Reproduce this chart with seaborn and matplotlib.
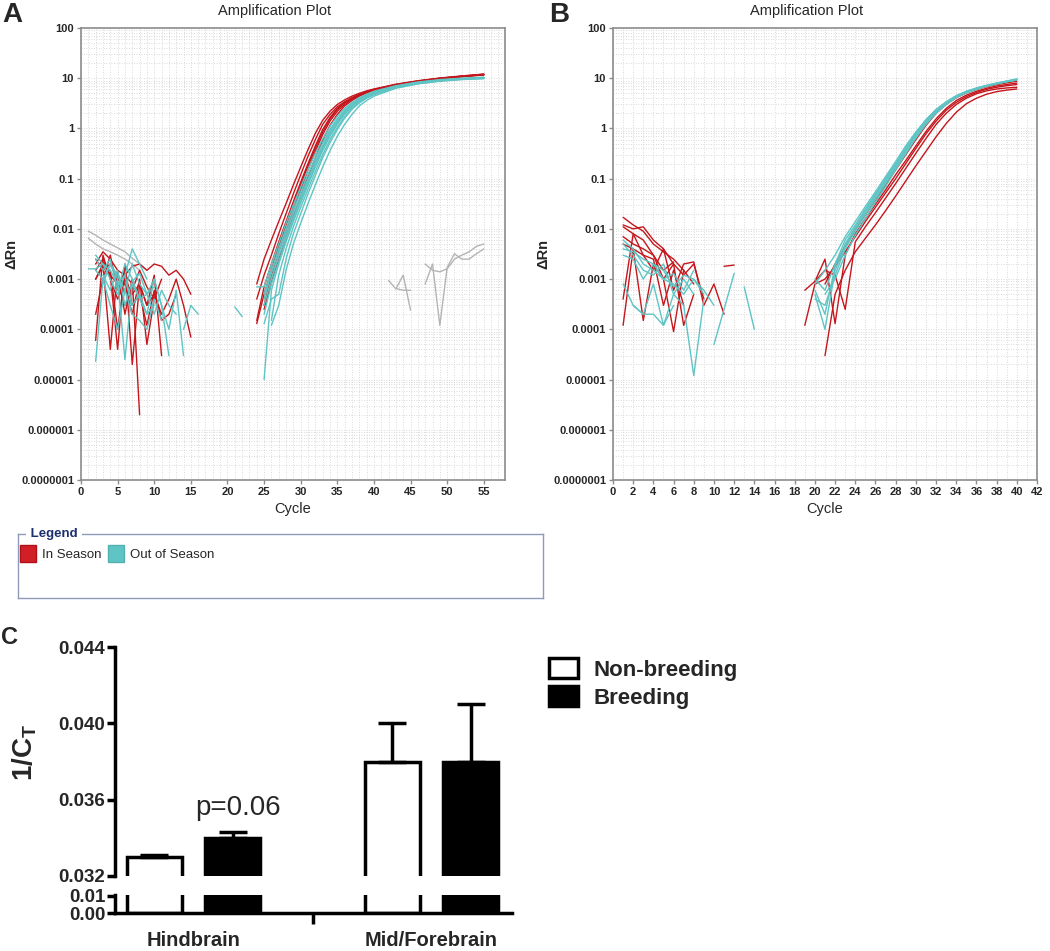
import matplotlib
matplotlib.use("Agg")
import matplotlib.pyplot as plt
import seaborn as sns
import pandas as pd
from matplotlib.patches import Patch
from matplotlib.ticker import FixedLocator, FixedFormatter, MultipleLocator, NullFormatter

# ---------------- panel A: amplification curves (delta Rn per cycle) ----------------
a_amp_cycles = [24, 25, 26, 27, 28, 29, 30, 31, 32, 33, 34, 35, 36, 37, 38, 39, 40, 43, 46, 49, 52, 55]
a_in_amp = [
    [4e-4, 1.2e-3, 3e-3, 8e-3, 0.02, 0.05, 0.12, 0.28, 0.6, 1.2, 1.9, 2.7, 3.4, 4.1, 4.8, 5.4, 6.0, 7.5, 8.8, 10.0, 11.0, 12.0],
    [1.5e-4, 7e-4, 2e-3, 5.5e-3, 0.014, 0.035, 0.085, 0.2, 0.45, 0.95, 1.65, 2.5, 3.3, 4.0, 4.7, 5.3, 5.9, 7.4, 8.7, 9.9, 10.9, 11.8],
    [None, 3e-4, 1.2e-3, 3.5e-3, 0.009, 0.024, 0.06, 0.15, 0.35, 0.75, 1.4, 2.2, 3.0, 3.8, 4.5, 5.2, 5.8, 7.3, 8.6, 9.8, 10.8, 11.7],
    [1.3e-4, 5e-4, 1.5e-3, 4.5e-3, 0.012, 0.03, 0.075, 0.18, 0.4, 0.85, 1.55, 2.4, 3.2, 3.9, 4.6, 5.3, 5.9, 7.4, 8.7, 9.9, 10.9, 11.9],
    [None, 2.5e-4, 9e-4, 2.5e-3, 0.007, 0.018, 0.045, 0.11, 0.26, 0.58, 1.15, 1.9, 2.8, 3.6, 4.4, 5.1, 5.7, 7.2, 8.5, 9.7, 10.7, 11.6],
    [8e-4, 2.5e-3, 6e-3, 0.014, 0.032, 0.075, 0.17, 0.38, 0.8, 1.45, 2.2, 3.0, 3.7, 4.4, 5.0, 5.6, 6.1, 7.6, 8.9, 10.1, 11.1, 12.1],
]
a_out_amp = [
    [None, 5e-4, 1.5e-3, 4e-3, 0.01, 0.024, 0.055, 0.12, 0.26, 0.52, 0.95, 1.55, 2.3, 3.1, 3.9, 4.6, 5.3, 6.9, 8.2, 9.2, 9.8, 10.3],
    [None, 3e-4, 1e-3, 2.8e-3, 0.007, 0.017, 0.04, 0.09, 0.2, 0.42, 0.8, 1.35, 2.1, 2.9, 3.7, 4.4, 5.1, 6.8, 8.1, 9.1, 9.7, 10.2],
    [None, 1e-5, 6e-4, 2e-3, 0.0055, 0.014, 0.033, 0.075, 0.17, 0.36, 0.7, 1.2, 1.9, 2.7, 3.5, 4.3, 5.0, 6.7, 8.0, 9.0, 9.7, 10.1],
    [None, None, 1.5e-4, 1.2e-3, 0.004, 0.011, 0.027, 0.062, 0.14, 0.3, 0.6, 1.05, 1.7, 2.5, 3.3, 4.1, 4.8, 6.6, 7.9, 8.9, 9.6, 10.0],
    [None, 1.3e-4, 4e-4, 5e-4, 0.0025, 0.008, 0.02, 0.05, 0.115, 0.26, 0.52, 0.95, 1.6, 2.4, 3.2, 4.0, 4.7, 6.5, 7.8, 8.8, 9.5, 9.9],
    [7e-4, 7e-4, 2e-3, 5e-3, 0.013, 0.03, 0.068, 0.15, 0.32, 0.62, 1.1, 1.75, 2.5, 3.3, 4.1, 4.8, 5.5, 7.1, 8.4, 9.4, 10.0, 10.5],
    [None, 2e-4, 8e-4, 2.2e-3, 0.006, 0.015, 0.036, 0.082, 0.18, 0.39, 0.75, 1.3, 2.0, 2.8, 3.6, 4.4, 5.1, 6.8, 8.0, 9.1, 9.7, 10.2],
    [None, None, 1.2e-4, 3e-4, 1.5e-3, 0.005, 0.013, 0.032, 0.075, 0.17, 0.36, 0.7, 1.2, 1.9, 2.8, 3.6, 4.4, 6.3, 7.7, 8.7, 9.4, 9.8],
    [None, 4e-4, 1.3e-3, 3.5e-3, 0.0085, 0.02, 0.046, 0.1, 0.22, 0.46, 0.88, 1.45, 2.2, 3.0, 3.8, 4.5, 5.2, 6.9, 8.1, 9.1, 9.8, 10.3],
]

# baseline fragments: first cycle of each fragment, then its values
a_in_base_start = [2, 2, 2, 2, 2, 2, 2, 3]
a_in_base = [
    [2e-3, 3.5e-3, 2.5e-3, 1.5e-3, 1.2e-3, 1.8e-3, 2e-3, 1.5e-3, 2e-3, 1.8e-3, 1.2e-3, 1.5e-3, 1e-3, 5e-4],
    [6e-5, 3e-3, 1e-3, 4e-4, 1e-3, 5e-4, 8e-4, 3e-4, 5e-4, 2e-4, 4e-4, 1e-3, 3e-4, 7e-5],
    [1e-3, 2e-3, 4e-5, 1.5e-3, 2e-4, 1e-3, 2e-6],
    [1.5e-3, 2.5e-3, 1.2e-3, 4e-5, 2e-3, 2e-5, 8e-4, 3e-4, 1.2e-3, 3e-5],
    [2.5e-3, 1.5e-3, 2e-3, 1e-3, 8e-4, 2e-4, 1e-3, 5e-5, 4e-4],
    [2e-4, 1e-3, 3e-3, 6e-4, 1.5e-3, 3e-4, 5e-4, 1.2e-4, 6e-4, 1.5e-4, 2e-4, 5e-4],
    [1e-3, 1.8e-3, 1.5e-3, 1e-4, 1.2e-3, 8e-4],
    [2.2e-3, 1.2e-3, 8e-4, 3e-4, 6e-4, 1.5e-3, 7e-4, 4e-4, 1e-3],
]
a_out_base_start = [1, 2, 2, 2, 3, 2, 14, 21, 3]
a_out_base = [
    [1.6e-3, 1.6e-3, 2e-3, 1.5e-3, 8e-4, 1.2e-3, 4e-3, 2e-3, 1e-3],
    [2.3e-5, 1e-3, 2e-3, 1e-3, 2.5e-5, 8e-4, 4e-4, 2e-4, 1e-3, 3e-4, 3e-5],
    [3e-3, 2e-3, 1e-3, 5e-4, 1.2e-3, 3e-4, 5e-4, 2e-4, 3e-4],
    [2.5e-3, 1.5e-3, 2.5e-3, 6e-4, 2e-3, 1e-3, 4e-4, 5e-4, 2e-4, 6e-4, 3e-4, 2e-4],
    [8e-4, 2e-3, 1.2e-3, 6e-4, 2e-3, 8e-4, 5e-4, 1e-3, 3e-4, 1e-4, 6e-4, 3e-5],
    [1.5e-3, 1e-3, 3e-4, 1e-4, 6e-4, 2e-4, 1.5e-4, 1e-4, 4e-4, 1.5e-4],
    [1e-4, 3e-4, 2e-4],
    [2.8e-4, 1.8e-4],
    [1.2e-3, 6e-4, 1.5e-3, 3e-4, 9e-4, 1.3e-3, 5e-4, 7e-4],
]
a_other_start = [1, 1, 42, 43, 47, 47]
a_other = [
    [9e-3, 7.5e-3, 6e-3, 5e-3, 4.2e-3, 3.5e-3, 2.6e-3, 2e-3, 1.5e-3],
    [6.5e-3, 5e-3, 4e-3, 3.5e-3, 3e-3, 2.5e-3, 2e-3, 1.5e-3],
    [9.4e-4, 6.4e-4, 1.2e-3, 2.4e-4],
    [6.5e-4, 6e-4, 6e-4],
    [8e-4, 2e-3, 1.2e-4, 1.7e-3, 3.2e-3, 2.5e-3, 2.5e-3, 3.2e-3, 4e-3],
    [2e-3, 1.5e-3, 1.4e-3, 1.6e-3, 2.5e-3, 3e-3, 3.5e-3, 4.5e-3, 5e-3],
]

# ---------------- panel B ----------------
b_amp_cycles = [19, 20, 21, 22, 23, 24, 25, 26, 27, 28, 29, 30, 31, 32, 33, 34, 35, 36, 37, 38, 39, 40]
b_in_amp = [
    [None, None, 3e-5, 5e-4, 1.5e-3, 3.5e-3, 6.5e-3, 0.012, 0.023, 0.045, 0.09, 0.18, 0.35, 0.68, 1.25, 2.1, 3.1, 4.0, 4.8, 5.4, 5.8, 6.1],
    [1.2e-4, 8e-4, 1e-3, 1.8e-3, 3.5e-3, 7e-3, 0.014, 0.027, 0.052, 0.1, 0.2, 0.4, 0.78, 1.4, 2.3, 3.3, 4.3, 5.2, 6.0, 6.6, 7.1, 7.5],
    [6e-4, 9e-4, 1.5e-3, 1.2e-3, 2.5e-4, 5.5e-3, 0.011, 0.021, 0.041, 0.08, 0.16, 0.32, 0.63, 1.2, 2.0, 3.0, 4.0, 4.9, 5.6, 6.1, 6.4, 6.6],
    [None, 9e-4, 2.5e-3, 1.3e-4, 3e-3, 8e-3, 0.016, 0.031, 0.06, 0.12, 0.23, 0.45, 0.87, 1.55, 2.5, 3.6, 4.6, 5.5, 6.3, 7.0, 7.5, 8.0],
    [None, None, 8e-4, 2e-3, 4.5e-3, 9.5e-3, 0.019, 0.038, 0.075, 0.15, 0.3, 0.6, 1.15, 2.0, 3.0, 4.1, 5.1, 6.0, 6.8, 7.5, 8.1, 8.7],
]
b_out_amp = [
    [None, 8e-4, 1.5e-3, 3e-3, 7e-3, 0.014, 0.028, 0.055, 0.11, 0.22, 0.45, 0.85, 1.5, 2.4, 3.4, 4.5, 5.5, 6.4, 7.2, 8.0, 8.7, 9.5],
    [None, 5e-4, 1e-4, 1.5e-3, 4.5e-3, 0.01, 0.021, 0.043, 0.088, 0.18, 0.37, 0.74, 1.35, 2.2, 3.2, 4.3, 5.3, 6.2, 7.0, 7.8, 8.5, 9.2],
    [None, 4e-4, 3e-4, 1.2e-3, 4e-3, 0.009, 0.019, 0.039, 0.08, 0.165, 0.34, 0.7, 1.3, 2.1, 3.1, 4.2, 5.2, 6.1, 7.0, 7.8, 8.6, 9.4],
    [None, 1e-3, 6e-4, 2e-3, 6e-3, 0.012, 0.025, 0.05, 0.1, 0.2, 0.41, 0.8, 1.45, 2.3, 3.3, 4.4, 5.4, 6.3, 7.2, 8.0, 8.8, 9.7],
    [None, None, 5e-4, 1e-3, 3e-3, 7.5e-3, 0.016, 0.034, 0.07, 0.15, 0.31, 0.64, 1.2, 2.0, 3.0, 4.1, 5.1, 6.0, 6.9, 7.7, 8.5, 9.2],
    [None, 6e-4, 2e-4, 1.8e-3, 5e-3, 0.011, 0.023, 0.047, 0.095, 0.19, 0.39, 0.78, 1.4, 2.3, 3.3, 4.4, 5.4, 6.3, 7.1, 7.9, 8.7, 9.5],
]
b_in_base_start = [1, 1, 1, 1, 1, 1, 11, 1]
b_in_base = [
    [0.017, 0.012, 0.009, 5e-3, 3.5e-3, 2.5e-3, 1.5e-3, 8e-4],
    [0.012, 0.01, 0.011, 6e-3, 4e-3, 2e-3, 1.2e-3, 2e-3, 4e-4],
    [1.2e-4, 4e-3, 1.5e-4, 2e-3, 1e-3, 9e-5, 1.5e-3],
    [7e-3, 5e-3, 4e-3, 3e-3, 1e-3, 2e-3, 1.2e-4, 5e-4],
    [4e-4, 8e-3, 3e-3, 1.5e-3, 4e-3, 6e-4, 2e-3, 2.2e-3, 3e-4, 8e-4, 2e-4],
    [5e-3, 4e-3, 3e-3, 2.5e-3, 3e-4, 1.5e-3, 3e-4],
    [1.8e-3, 1.9e-3],
    [0.011, 8e-3, 6e-3, 3e-3, 1.5e-3, 2.2e-3],
]
b_out_base_start = [1, 1, 1, 1, 2, 10, 13, 1]
b_out_base = [
    [8e-4, 3e-4, 2e-4, 8e-4, 1.2e-4, 5e-4, 3e-4, 1.2e-5, 4e-4],
    [6e-3, 4e-3, 2e-3, 1.5e-3, 1e-3, 8e-4, 5e-4, 1e-3, 6e-4, 3e-4],
    [5e-3, 3e-3, 1.5e-3, 1.2e-3, 2e-3, 5e-4, 1e-3, 5e-4],
    [3e-3, 2.5e-3, 1e-3, 2e-3, 1.5e-3, 7e-4, 1.2e-3, 1e-3, 5e-4],
    [3e-4, 2e-4, 2e-4, 1.2e-4, 3e-4],
    [5e-5, 2.5e-4, 1.3e-3],
    [7e-4, 1e-4],
    [4e-3, 3.5e-3, 2.5e-3, 2e-3, 1e-3, 1.3e-3, 6e-4, 1.5e-3],
]

# ---------------- panel C: 1/Ct ----------------
regions = ["Hindbrain", "Mid/Forebrain"]
seasons = ["Non-breeding", "Breeding"]
ct_nonbreeding = [0.0330, 0.0380]
ct_breeding = [0.0340, 0.0380]
sem_nonbreeding = [0.0001, 0.0020]
sem_breeding = [0.0003, 0.0030]

RED = "#c4161c"
CYAN = "#5fc4c4"
GREY = "#b4b4b4"
W, H = 1050, 951


def curves_to_rows(curves, group, tag, cycles=None, starts=None):
    rows = []
    for i, vals in enumerate(curves):
        for j, v in enumerate(vals):
            if v is None:
                continue
            c = cycles[j] if cycles is not None else starts[i] + j
            rows.append({"cycle": c, "drn": v, "group": group, "curve": f"{tag}{i}"})
    return rows


def px(l, t, r, b):
    return [l / W, 1 - b / H, (r - l) / W, (b - t) / H]


sns.set_theme(style="white")
plt.rcParams["font.family"] = ["Liberation Sans", "DejaVu Sans"]
plt.rcParams["mathtext.fontset"] = "custom"
plt.rcParams["mathtext.bf"] = "Liberation Sans:bold"
plt.rcParams["mathtext.rm"] = "Liberation Sans:bold"

fig = plt.figure(figsize=(10.5, 9.51), dpi=100)

pal = {"In Season": RED, "Out of Season": CYAN, "Other": GREY}
ylabels = ["0.0000001", "0.000001", "0.00001", "0.0001", "0.001", "0.01", "0.1", "1", "10", "100"]
yvals = [1e-7, 1e-6, 1e-5, 1e-4, 1e-3, 1e-2, 1e-1, 1, 10, 100]


def amp_panel(ax, layers, xmax, xticks, title_x):
    for rows in layers:
        if not rows:
            continue
        sns.lineplot(data=pd.DataFrame(rows), x="cycle", y="drn", hue="group", units="curve",
                     estimator=None, palette=pal, legend=False, lw=1.0, ax=ax, sort=False)
    ax.set_yscale("log")
    ax.set_ylim(1e-7, 100)
    ax.set_xlim(0, xmax)
    ax.yaxis.set_major_locator(FixedLocator(yvals))
    ax.yaxis.set_major_formatter(FixedFormatter(ylabels))
    ax.yaxis.set_minor_locator(FixedLocator([m * 10.0 ** e for e in range(-7, 2) for m in range(2, 10)]))
    ax.yaxis.set_minor_formatter(NullFormatter())
    ax.set_xticks(xticks)
    ax.xaxis.set_minor_locator(MultipleLocator(1))
    ax.grid(True, which="both", color="#cfcfcf", lw=0.6, ls=(0, (1, 2)))
    for s in ax.spines.values():
        s.set_color("#8c8c8c")
        s.set_linewidth(1.2)
    ax.tick_params(axis="both", which="major", length=3, width=1, color="#8c8c8c",
                   labelsize=8, pad=2, bottom=True, left=True)
    ax.tick_params(which="minor", length=0)
    for lab in ax.get_xticklabels() + ax.get_yticklabels():
        lab.set_fontweight("bold")
    ax.set_xlabel("Cycle", fontsize=10.5, labelpad=4)
    ax.set_ylabel("\u0394Rn", fontsize=10.5, fontweight="bold", labelpad=2)
    fig.text(title_x / W, 1 - 11 / H, "Amplification Plot", fontsize=10.5, ha="center", va="center")


# panel A
axA = fig.add_axes(px(81, 28, 505, 480))
amp_panel(axA,
          [curves_to_rows(a_other, "Other", "ao", starts=a_other_start),
           curves_to_rows(a_in_base, "In Season", "aib", starts=a_in_base_start)
           + curves_to_rows(a_in_amp, "In Season", "ai", cycles=a_amp_cycles),
           curves_to_rows(a_out_base, "Out of Season", "acb", starts=a_out_base_start)
           + curves_to_rows(a_out_amp, "Out of Season", "ac", cycles=a_amp_cycles)],
          57.9, list(range(0, 56, 5)), 275)

# panel B
axB = fig.add_axes(px(613, 28, 1037, 480))
amp_panel(axB,
          [curves_to_rows(b_in_base, "In Season", "bib", starts=b_in_base_start)
           + curves_to_rows(b_in_amp, "In Season", "bi", cycles=b_amp_cycles),
           curves_to_rows(b_out_base, "Out of Season", "bcb", starts=b_out_base_start)
           + curves_to_rows(b_out_amp, "Out of Season", "bc", cycles=b_amp_cycles)],
          42, list(range(0, 43, 2)), 807)

fig.text(12 / W, 1 - 15 / H, "A", fontsize=20, fontweight="bold", ha="center", va="center")
fig.text(559 / W, 1 - 15 / H, "B", fontsize=20, fontweight="bold", ha="center", va="center")
fig.text(9 / W, 1 - 638 / H, "C", fontsize=17, fontweight="bold", ha="center", va="center")

# legend box under A
axL = fig.add_axes(px(18, 534, 543, 598))
axL.set_xticks([])
axL.set_yticks([])
axL.set_facecolor("white")
for s in axL.spines.values():
    s.set_color("#8e9ab8")
    s.set_linewidth(1.0)
fig.text(27 / W, 1 - 534 / H, " Legend ", fontsize=9.5, fontweight="bold", color="#1c2f6e",
         ha="left", va="center", bbox=dict(fc="white", ec="none", pad=0.5))
fig.legend(handles=[Patch(fc="#d01f26", ec="#b01018"), Patch(fc=CYAN, ec="#52b0b0")],
           labels=["In Season", "Out of Season"], loc="upper left",
           bbox_to_anchor=(20 / W, 1 - 545 / H), ncol=2, frameon=False, fontsize=9.5,
           handlelength=1.25, handleheight=1.6, handletextpad=0.4, columnspacing=0.5,
           borderpad=0, borderaxespad=0)

# panel C: broken-axis bar chart
dfC = pd.DataFrame({
    "region": regions + regions,
    "season": [seasons[0]] * 2 + [seasons[1]] * 2,
    "value": ct_nonbreeding + ct_breeding,
    "sem": sem_nonbreeding + sem_breeding,
})
axT = fig.add_axes(px(115, 647, 512, 876))
axD = fig.add_axes(px(115, 894.6, 512, 913))
cpal = {"Non-breeding": "white", "Breeding": "black"}
for ax in (axT, axD):
    sns.barplot(data=dfC, x="region", y="value", hue="season", order=regions, hue_order=seasons,
                palette=cpal, edgecolor="black", linewidth=2.5, width=0.66, gap=0.3,
                legend=False, ax=ax, errorbar=None)
    ax.set_xlim(-0.33, 1.338)
    ax.set_xlabel("")
    ax.set_ylabel("")
    for s in ("top", "right"):
        ax.spines[s].set_visible(False)
    ax.spines["left"].set_linewidth(2.5)
    ax.spines["left"].set_color("black")
    ax.tick_params(axis="y", length=6, width=2.5, color="black", labelsize=13.5, pad=1, left=True)

axT.set_ylim(0.032, 0.044)
axT.set_yticks([0.032, 0.036, 0.040, 0.044])
axT.set_yticklabels(["0.032", "0.036", "0.040", "0.044"])
axT.spines["bottom"].set_visible(False)
axT.set_xticks([])
axD.set_ylim(0, 0.0108)
axD.set_yticks([0.0, 0.01])
axD.set_yticklabels(["0.00", "0.01"])
axD.spines["bottom"].set_linewidth(2.5)
axD.spines["bottom"].set_color("black")
axD.set_xticks([0, 1])
axD.set_xticklabels(regions)
axD.set_xticks([0.5], minor=True)
axD.tick_params(axis="x", which="major", length=0, labelsize=14.5, pad=13)
axD.tick_params(axis="x", which="minor", length=8, width=2.5, color="black", bottom=True)
for ax in (axT, axD):
    for lab in ax.get_xticklabels() + ax.get_yticklabels():
        lab.set_fontweight("bold")

# one-sided error bars from the bar tops
xs = [b.get_x() + b.get_width() / 2 for b in axT.patches]
axT.errorbar(xs, dfC["value"], yerr=[[0] * len(xs), dfC["sem"]], fmt="none", ecolor="black",
             elinewidth=2.5, capsize=10, capthick=2.5, zorder=5, clip_on=False)
axT.text(xs[2] + 0.02, 0.03558, "p=0.06", fontsize=20, ha="center", va="center")

fig.text(25 / W, 1 - 752 / H, "1/C$_\\mathbf{T}$", rotation=90, fontsize=20, fontweight="bold",
         ha="center", va="center")

fig.legend(handles=[Patch(fc="white", ec="black", lw=2.5), Patch(fc="black", ec="black", lw=2.5)],
           labels=seasons, loc="upper left", bbox_to_anchor=(549 / W, 1 - 658 / H), frameon=False,
           prop={"size": 16, "weight": "bold"}, handlelength=1.3, handleheight=1.0,
           handletextpad=0.7, labelspacing=0.25, borderpad=0, borderaxespad=0)

fig.savefig("out.png", dpi=100, facecolor="white")
